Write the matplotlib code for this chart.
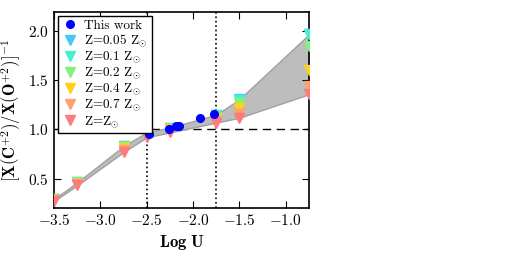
import numpy as np
import matplotlib
matplotlib.use("Agg")
import matplotlib.pyplot as plt

plt.rcParams['font.family'] = 'serif'
plt.rcParams['font.serif'] = ['cmr10', 'DejaVu Serif']
plt.rcParams['mathtext.fontset'] = 'cm'
plt.rcParams['axes.formatter.use_mathtext'] = True
plt.rcParams['axes.unicode_minus'] = True

# model grid (log U) and ICF values per metallicity
log_u = [-3.5, -3.25, -2.75, -2.5, -2.25, -1.75, -1.5, -0.75]
z_labels = [r'Z=0.05 Z$_{\odot}$', r'Z=0.1 Z$_{\odot}$', r'Z=0.2 Z$_{\odot}$',
            r'Z=0.4 Z$_{\odot}$', r'Z=0.7 Z$_{\odot}$', r'Z=Z$_{\odot}$']
z_colors = ['#45c8f5', '#45f0cc', '#85f07f', '#ffd21a', '#ffa070', '#ff7a7a']
icf_005 = [0.29, 0.46, 0.83, 0.97, 1.02, 1.15, 1.31, 1.97]
icf_01 = [0.29, 0.46, 0.83, 0.97, 1.02, 1.15, 1.30, 1.97]
icf_02 = [0.29, 0.45, 0.82, 0.96, 1.01, 1.13, 1.27, 1.85]
icf_04 = [0.28, 0.45, 0.81, 0.95, 1.00, 1.11, 1.22, 1.61]
icf_07 = [0.28, 0.44, 0.79, 0.93, 0.99, 1.09, 1.16, 1.44]
icf_1 = [0.27, 0.43, 0.77, 0.92, 0.97, 1.07, 1.12, 1.36]
models = [icf_005, icf_01, icf_02, icf_04, icf_07, icf_1]

# observed points
obs_logu = [-2.48, -2.26, -2.18, -2.15, -1.92, -1.77]
obs_icf = [0.95, 1.01, 1.04, 1.04, 1.12, 1.16]

fig = plt.figure(figsize=(5.09, 2.69), dpi=100)
ax = fig.add_axes([0.106, 0.227, 0.501, 0.729])

arr = np.array(models)
ax.fill_between(log_u, arr.min(axis=0), arr.max(axis=0), facecolor='#bdbdbd',
                edgecolor='#a0a0a0', linewidth=1.0, zorder=1)

ax.axhline(1.0, color='k', ls='--', lw=1.0, dashes=(6, 4), zorder=0)
ax.axvline(-2.5, color='k', ls=':', lw=1.2, zorder=0)
ax.axvline(-1.75, color='k', ls=':', lw=1.2, zorder=0)

ax.plot(obs_logu, obs_icf, 'o', color='#0000ff', ms=5.5, mec='#0000ff',
        label='This work', zorder=4)
for vals, c, lab in zip(models, z_colors, z_labels):
    ax.plot(log_u, vals, 'v', color=c, mec=c, ms=6.5, label=lab, zorder=3)

ax.set_xlim(-3.5, -0.75)
ax.set_ylim(0.2, 2.2)
ax.set_xticks([-3.5, -3.0, -2.5, -2.0, -1.5, -1.0])
ax.set_yticks([0.5, 1.0, 1.5, 2.0])
ax.tick_params(direction='in', top=True, right=True, length=5, labelsize=11)
for s in ax.spines.values():
    s.set_linewidth(1.2)

ax.set_xlabel(r'$\mathbf{Log\ U}$', fontsize=12)
ax.set_ylabel(r'$\mathbf{[X(C^{+2})/X(O^{+2})]^{-1}}$', fontsize=12)

leg = ax.legend(loc='upper left', fontsize=9.5, numpoints=1, handletextpad=0.5,
                borderpad=0.3, labelspacing=0.02, fancybox=False,
                handlelength=1.2, borderaxespad=0.3)
leg.get_frame().set_edgecolor('k')
leg.get_frame().set_linewidth(1.0)
leg.get_frame().set_alpha(1.0)

fig.savefig('out.png', dpi=100)
